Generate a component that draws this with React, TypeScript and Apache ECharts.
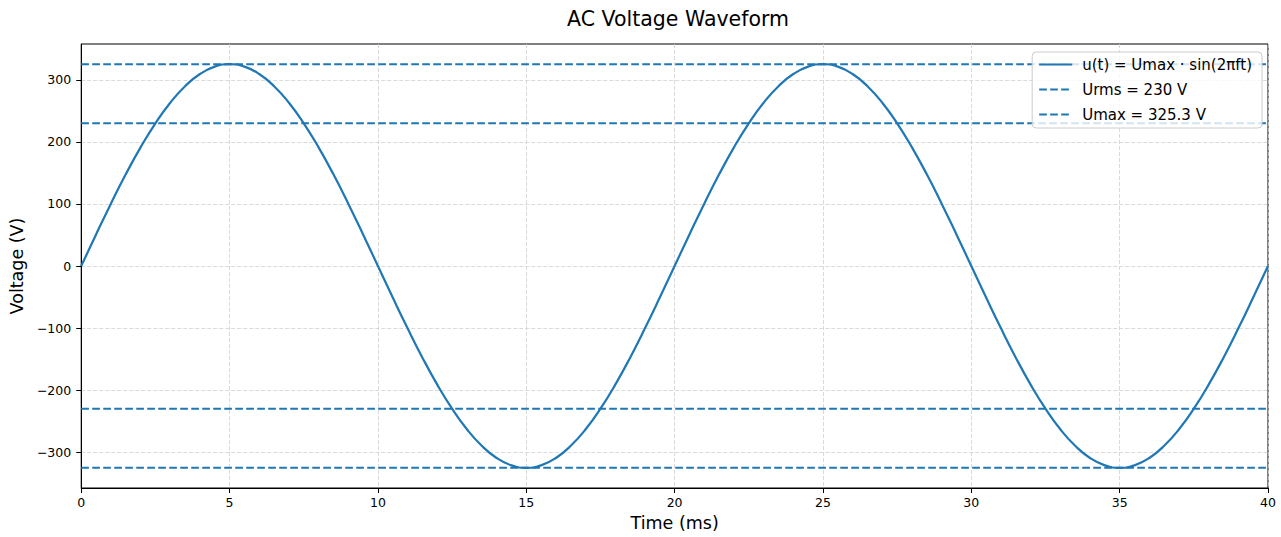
import React, { useEffect, useRef } from "react";
import * as echarts from "echarts";

const timeMs: number[] = [
  0, 0.5, 1, 1.5, 2, 2.5, 3, 3.5, 4, 4.5, 5, 5.5, 6, 6.5, 7, 7.5, 8, 8.5, 9, 9.5,
  10, 10.5, 11, 11.5, 12, 12.5, 13, 13.5, 14, 14.5, 15, 15.5, 16, 16.5, 17, 17.5, 18, 18.5, 19, 19.5,
  20, 20.5, 21, 21.5, 22, 22.5, 23, 23.5, 24, 24.5, 25, 25.5, 26, 26.5, 27, 27.5, 28, 28.5, 29, 29.5,
  30, 30.5, 31, 31.5, 32, 32.5, 33, 33.5, 34, 34.5, 35, 35.5, 36, 36.5, 37, 37.5, 38, 38.5, 39, 39.5,
  40,
];

const voltage: number[] = [
  0, 50.9, 100.5, 147.7, 191.2, 230.0, 263.2, 289.8, 309.4, 321.3,
  325.3, 321.3, 309.4, 289.8, 263.2, 230.0, 191.2, 147.7, 100.5, 50.9,
  0, -50.9, -100.5, -147.7, -191.2, -230.0, -263.2, -289.8, -309.4, -321.3,
  -325.3, -321.3, -309.4, -289.8, -263.2, -230.0, -191.2, -147.7, -100.5, -50.9,
  0, 50.9, 100.5, 147.7, 191.2, 230.0, 263.2, 289.8, 309.4, 321.3,
  325.3, 321.3, 309.4, 289.8, 263.2, 230.0, 191.2, 147.7, 100.5, 50.9,
  0, -50.9, -100.5, -147.7, -191.2, -230.0, -263.2, -289.8, -309.4, -321.3,
  -325.3, -321.3, -309.4, -289.8, -263.2, -230.0, -191.2, -147.7, -100.5, -50.9,
  0,
];

const urms = 230;
const umax = 325.3;
const xRange = [0, 40];
const yRange = [-357.8, 357.8];
const yTicks: number[] = [-300, -200, -100, 0, 100, 200, 300];

const seriesNames = ["u(t) = Umax \u00b7 sin(2\u03c0ft)", "Urms = 230 V", "Umax = 325.3 V"];

const FONT = "DejaVu Sans";
const BLUE = "#1f77b4";

export default function App() {
  const ref = useRef<HTMLDivElement>(null);
  useEffect(() => {
    if (!ref.current) return;
    const chart = echarts.init(ref.current, undefined, { renderer: "svg" });
    const dashed = { color: BLUE, width: 2, type: [7.7, 3.3] as number[] };
    const hLine = (name: string, level: number) => ({
      name,
      type: "line",
      data: [
        [xRange[0], level],
        [xRange[1], level],
      ],
      showSymbol: false,
      symbol: "none",
      lineStyle: dashed,
      itemStyle: { color: BLUE },
      silent: true,
      z: 3,
    });
    chart.setOption({
      animation: false,
      backgroundColor: "#ffffff",
      textStyle: { fontFamily: FONT },
      title: {
        text: "AC Voltage Waveform",
        left: 673,
        top: 3,
        textAlign: "center",
        textStyle: { fontFamily: FONT, fontSize: 20.5, fontWeight: "normal", color: "#000" },
      },
      legend: {
        orient: "vertical",
        right: 19,
        top: 52,
        data: seriesNames,
        itemWidth: 33,
        itemHeight: 14,
        itemGap: 10,
        padding: [5, 10, 6, 6],
        backgroundColor: "rgba(255,255,255,0.8)",
        borderColor: "#cccccc",
        borderWidth: 1,
        borderRadius: 4,
        itemStyle: { opacity: 0 },
        textStyle: { fontFamily: FONT, fontSize: 15, color: "#000", padding: [0, 0, 0, 5] },
      },
      grid: {
        left: 79,
        right: 13,
        top: 44,
        bottom: 45,
        show: true,
        borderColor: "#000",
        borderWidth: 1,
        backgroundColor: "transparent",
      },
      xAxis: {
        type: "value",
        min: xRange[0],
        max: xRange[1],
        interval: 5,
        name: "Time (ms)",
        nameLocation: "middle",
        nameGap: 26,
        nameTextStyle: { fontFamily: FONT, fontSize: 17.5, color: "#000" },
        axisLine: { show: true, onZero: false, lineStyle: { color: "#000", width: 1 } },
        axisTick: { show: true, inside: false, length: 5, lineStyle: { color: "#000" } },
        axisLabel: { fontFamily: FONT, fontSize: 12.5, color: "#000", margin: 8 },
        splitLine: { show: true, lineStyle: { color: "#d0d0d0", type: [4, 2], width: 0.8 } },
      },
      yAxis: {
        type: "value",
        min: yRange[0],
        max: yRange[1],
        name: "Voltage (V)",
        nameLocation: "middle",
        nameGap: 52,
        nameTextStyle: { fontFamily: FONT, fontSize: 17.5, color: "#000" },
        axisLine: { show: true, onZero: false, lineStyle: { color: "#000", width: 1 } },
        axisTick: { show: true, inside: false, length: 5, customValues: yTicks, lineStyle: { color: "#000" } },
        axisLabel: {
          fontFamily: FONT,
          fontSize: 12.5,
          color: "#000",
          margin: 10,
          customValues: yTicks,
          formatter: (v: number) => (v < 0 ? "\u2212" + Math.abs(v) : String(v)),
        },
        splitLine: { show: true, lineStyle: { color: "#d0d0d0", type: [4, 2], width: 0.8 } },
      },
      series: [
        {
          name: seriesNames[0],
          type: "line",
          data: timeMs.map((t, i) => [t, voltage[i]]),
          showSymbol: false,
          symbol: "none",
          smooth: true,
          lineStyle: { color: BLUE, width: 2.2 },
          itemStyle: { color: BLUE },
          z: 4,
        },
        hLine(seriesNames[1], urms),
        hLine(seriesNames[1], -urms),
        hLine(seriesNames[2], umax),
        hLine(seriesNames[2], -umax),
      ],
    });
    return () => chart.dispose();
  }, []);
  return (
    <div
      ref={ref}
      style={{ position: "fixed", left: 0, top: 0, width: 1281, height: 537, background: "#fff" }}
    />
  );
}
